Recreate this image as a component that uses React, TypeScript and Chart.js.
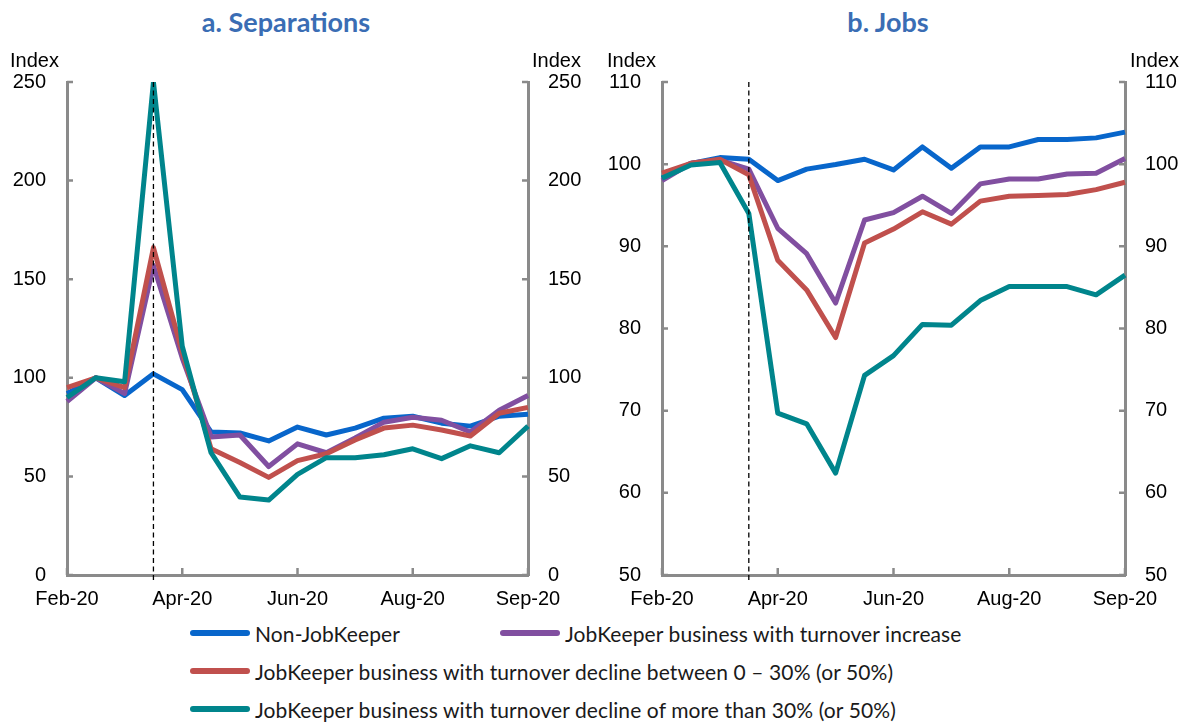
import React, { useEffect, useRef } from 'react';
import { Chart, registerables } from 'chart.js';

Chart.register(...registerables);

// ---------- DATA ----------
const categories = ['Feb-20', '', '', '', 'Apr-20', '', '', '', 'Jun-20', '', '', '', 'Aug-20', '', '', '', 'Sep-20'];
const jobKeeperStartIndex = 3;

const seriesNames = [
  'Non-JobKeeper',
  'JobKeeper business with turnover increase',
  'JobKeeper business with turnover decline between 0 – 30% (or 50%)',
  'JobKeeper business with turnover decline of more than 30% (or 50%)',
];
const seriesColors = ['#0866CB', '#814FA0', '#C0504D', '#00858C'];

const sepNonJK = [92, 100, 91, 102, 94, 72.5, 72, 68, 75, 71, 74.5, 79.5, 80.5, 77, 75.5, 80.5, 81.5];
const sepIncrease = [88, 100, 92, 157, 110, 70, 71, 55, 66.5, 62, 69.5, 77.5, 80, 78.5, 72.5, 83.5, 91];
const sepDecline = [95, 100, 95, 166, 113, 64, 57, 49.5, 58, 61.5, 68.5, 74.5, 76, 73.5, 70.5, 82, 85];
const sepDeclineMore = [90, 100, 98, 250, 116, 62, 39.5, 38, 51, 59.5, 59.5, 61, 64, 59, 65.5, 62, 75.5];

const jobsNonJK = [98.3, 100.1, 100.8, 100.6, 98.0, 99.4, 99.95, 100.6, 99.3, 102.1, 99.5, 102.1, 102.1, 103.0, 103.0, 103.2, 103.9];
const jobsIncrease = [98.0, 100.1, 100.5, 99.4, 92.2, 89.1, 83.1, 93.2, 94.1, 96.1, 94.0, 97.6, 98.2, 98.2, 98.8, 98.9, 100.7];
const jobsDecline = [98.9, 100.1, 100.6, 98.7, 88.3, 84.7, 78.9, 90.4, 92.1, 94.2, 92.7, 95.5, 96.1, 96.2, 96.3, 96.9, 97.8];
const jobsDeclineMore = [98.3, 99.9, 100.2, 94.0, 69.7, 68.4, 62.4, 74.3, 76.7, 80.5, 80.4, 83.4, 85.1, 85.1, 85.1, 84.1, 86.5];

const sepAxis = { min: 0, max: 250, step: 50 };
const jobsAxis = { min: 50, max: 110, step: 10 };

// ---------- STYLE ----------
const AXIS_FONT = "'Liberation Sans', Arial, sans-serif";
const TEXT_FONT = "Lato, 'Open Sans', sans-serif";
const AXIS_GREY = '#8a8a8a';

const innerTicks = {
  id: 'innerTicks',
  afterDraw(chart: any) {
    const { ctx, chartArea, scales } = chart;
    ctx.save();
    ctx.strokeStyle = AXIS_GREY;
    ctx.lineWidth = 2.5;
    ctx.beginPath();
    ['y', 'y2'].forEach((id) => {
      const s = scales[id];
      if (!s) return;
      s.ticks.forEach((t: any) => {
        const py = s.getPixelForValue(t.value);
        if (id === 'y') {
          ctx.moveTo(chartArea.left, py);
          ctx.lineTo(chartArea.left + 6, py);
        } else {
          ctx.moveTo(chartArea.right, py);
          ctx.lineTo(chartArea.right - 6, py);
        }
      });
    });
    const x = scales.x;
    categories.forEach((c, i) => {
      if (!c) return;
      const px = x.getPixelForValue(i);
      ctx.moveTo(px, chartArea.bottom);
      ctx.lineTo(px, chartArea.bottom - 7);
    });
    ctx.stroke();
    ctx.restore();
  },
};

const eventLine = {
  id: 'eventLine',
  afterDatasetsDraw(chart: any) {
    const { ctx, chartArea, scales } = chart;
    const px = scales.x.getPixelForValue(jobKeeperStartIndex);
    ctx.save();
    ctx.strokeStyle = '#000';
    ctx.lineWidth = 1.3;
    ctx.setLineDash([5, 3.5]);
    ctx.beginPath();
    ctx.moveTo(px, chartArea.top);
    ctx.lineTo(px, chartArea.bottom + 8);
    ctx.stroke();
    ctx.restore();
  },
};

function buildConfig(series: number[][], axis: { min: number; max: number; step: number }, leftW: number, rightW: number) {
  const yCommon = (position: string, width: number) => ({
    position,
    min: axis.min,
    max: axis.max,
    grid: { display: true, drawOnChartArea: false, drawTicks: false },
    border: { display: true, color: AXIS_GREY, width: 3 },
    ticks: {
      stepSize: axis.step,
      padding: position === 'left' ? 21 : 20,
      color: '#000',
      font: { family: AXIS_FONT, size: 20 },
    },
    afterFit(s: any) {
      s.width = width;
    },
  });
  return {
    type: 'line' as const,
    data: {
      labels: categories,
      datasets: series.map((d, i) => ({
        label: seriesNames[i],
        data: d,
        borderColor: seriesColors[i],
        backgroundColor: seriesColors[i],
        borderWidth: 5,
        pointRadius: 0,
        tension: 0,
        borderJoinStyle: 'round' as const,
        fill: false,
        yAxisID: 'y',
        order: series.length - 1 - i,
      })),
    },
    options: {
      animation: false as const,
      responsive: false,
      maintainAspectRatio: false,
      layout: { padding: { top: 82, left: 0, right: 0, bottom: 0 } },
      plugins: { legend: { display: false }, tooltip: { enabled: false }, title: { display: false } },
      scales: {
        x: {
          type: 'category' as const,
          offset: false,
          grid: { display: true, drawOnChartArea: false, drawTicks: false },
          border: { display: true, color: AXIS_GREY, width: 3 },
          ticks: {
            autoSkip: false,
            maxRotation: 0,
            minRotation: 0,
            padding: 12,
            color: '#000',
            font: { family: AXIS_FONT, size: 20 },
          },
          afterFit(s: any) {
            s.height = 40;
          },
        },
        y: yCommon('left', leftW),
        y2: yCommon('right', rightW),
      },
    },
    plugins: [innerTicks, eventLine],
  };
}

function Panel({ series, axis, left, leftW, rightW }: any) {
  const ref = useRef<HTMLCanvasElement>(null);
  useEffect(() => {
    const chart = new Chart(ref.current as HTMLCanvasElement, buildConfig(series, axis, leftW, rightW) as any);
    return () => chart.destroy();
  }, []);
  return (
    <canvas
      ref={ref}
      width={594}
      height={615}
      style={{ position: 'absolute', left, top: 0, width: 594, height: 615 }}
    />
  );
}

const abs = (style: any) => ({ position: 'absolute' as const, whiteSpace: 'nowrap' as const, ...style });

function LegendItem({ x, y, color, text }: any) {
  return (
    <div style={abs({ left: x, top: y - 14, height: 28, display: 'flex', alignItems: 'center' })}>
      <div style={{ width: 60, height: 6, borderRadius: 3, background: color, marginRight: 5 }} />
      <span style={{ fontFamily: TEXT_FONT, fontSize: 21, letterSpacing: '0.1px', color: '#1a1a1a' }}>{text}</span>
    </div>
  );
}

export default function App() {
  const indexStyle = { fontFamily: AXIS_FONT, fontSize: 20, color: '#000', lineHeight: '24px' };
  const titleStyle = { fontFamily: TEXT_FONT, fontWeight: 700, fontSize: 27, color: '#3A6DB4', lineHeight: '34px' };
  return (
    <div style={{ position: 'fixed', left: 0, top: 0, width: 1188, height: 722, background: '#fff', overflow: 'hidden' }}>
      <div style={abs({ ...titleStyle, left: 286, top: 5, transform: 'translateX(-50%)' })}>a. Separations</div>
      <div style={abs({ ...titleStyle, left: 888, top: 5, transform: 'translateX(-50%)' })}>b. Jobs</div>

      <Panel series={[sepNonJK, sepIncrease, sepDecline, sepDeclineMore]} axis={sepAxis} left={0} leftW={67} rightW={66} />
      <Panel series={[jobsNonJK, jobsIncrease, jobsDecline, jobsDeclineMore]} axis={jobsAxis} left={594} leftW={68} rightW={63} />

      <div style={abs({ ...indexStyle, left: 10, top: 48 })}>Index</div>
      <div style={abs({ ...indexStyle, left: 532, top: 48 })}>Index</div>
      <div style={abs({ ...indexStyle, left: 607, top: 48 })}>Index</div>
      <div style={abs({ ...indexStyle, left: 1130, top: 48 })}>Index</div>

      <LegendItem x={190} y={633} color={seriesColors[0]} text={seriesNames[0]} />
      <LegendItem x={500} y={633} color={seriesColors[1]} text={seriesNames[1]} />
      <LegendItem x={190} y={671} color={seriesColors[2]} text={seriesNames[2]} />
      <LegendItem x={190} y={709} color={seriesColors[3]} text={seriesNames[3]} />
    </div>
  );
}
